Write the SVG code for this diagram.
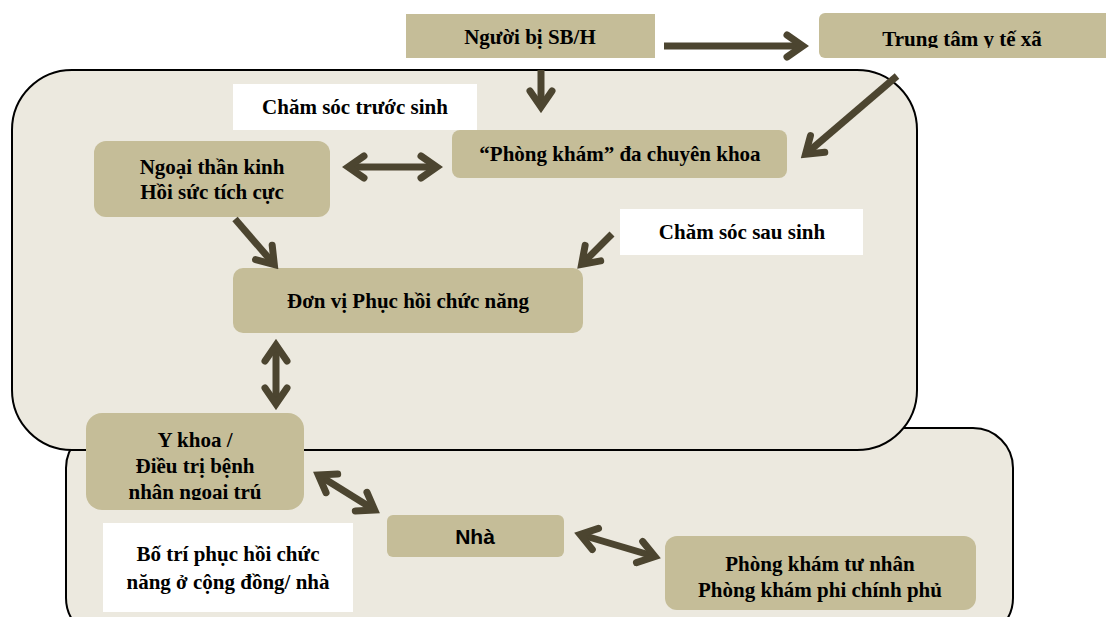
<svg xmlns="http://www.w3.org/2000/svg" width="1106" height="617" viewBox="0 0 1106 617">
<style>
.cont{fill:#ECE9DF;stroke:#000;stroke-width:2}
.node{fill:#C5BD98}
.white{fill:#FFFFFF}
.t{font-family:"Liberation Serif","Times New Roman",serif;font-weight:bold;font-size:21px;fill:#000;text-anchor:middle}
.s{font-family:"Liberation Sans",Arial,sans-serif;font-weight:bold;font-size:21px;fill:#000;text-anchor:middle}
.arr{stroke:#4C4530;stroke-width:7;fill:none;marker-end:url(#ah)}
.arr2{stroke:#4C4530;stroke-width:7;fill:none;marker-end:url(#ah);marker-start:url(#ah)}
</style>
<defs>
<marker id="ah" markerUnits="userSpaceOnUse" viewBox="0 0 30 30" markerWidth="30" markerHeight="30" refX="22" refY="15" orient="auto-start-reverse">
<path d="M8,4 L24,15 L8,26" fill="none" stroke="#4C4530" stroke-width="7" stroke-linecap="round" stroke-linejoin="miter"/>
</marker>
<clipPath id="clipTT"><rect x="819" y="13" width="287" height="35"/></clipPath>
<clipPath id="clipYK"><rect x="86" y="413" width="218" height="87"/></clipPath>
</defs>
<g id="containers">
<rect id="community" class="cont" x="66" y="428" width="947" height="210" rx="40"/>
<rect id="hospital" class="cont" x="12" y="70" width="905" height="380" rx="60"/>
</g>
<g id="n-nguoi"><rect class="node" x="406" y="14" width="249" height="44"/><text class="t" x="530" y="44">Người bị SB/H</text></g>
<g id="n-trungtam"><rect class="node" x="819" y="13" width="300" height="45" rx="6"/><text class="t" x="962" y="46" clip-path="url(#clipTT)">Trung tâm y tế xã</text></g>
<g id="n-truocsinh"><rect class="white" x="233" y="84" width="244" height="46"/><text class="t" x="355" y="114">Chăm sóc trước sinh</text></g>
<g id="n-phongkham"><rect class="node" x="452" y="130" width="335" height="48" rx="8"/><text class="t" x="620" y="161">“Phòng khám” đa chuyên khoa</text></g>
<g id="n-ngoai"><rect class="node" x="94" y="141" width="236" height="76" rx="12"/><text class="t" x="212" y="174">Ngoại thần kinh</text><text class="t" x="212" y="199">Hồi sức tích cực</text></g>
<g id="n-sausinh"><rect class="white" x="620" y="209" width="243" height="46"/><text class="t" x="742" y="239">Chăm sóc sau sinh</text></g>
<g id="n-donvi"><rect class="node" x="233" y="268" width="350" height="65" rx="10"/><text class="t" x="408" y="308">Đơn vị Phục hồi chức năng</text></g>
<g id="n-ykhoa"><rect class="node" x="86" y="413" width="218" height="97" rx="16"/><g clip-path="url(#clipYK)"><text class="t" x="195" y="447">Y khoa /</text><text class="t" x="195" y="473">Điều trị bệnh</text><text class="t" x="195" y="499">nhân ngoại trú</text></g></g>
<g id="n-nha"><rect class="node" x="387" y="515" width="177" height="42" rx="6"/><text class="s" x="475" y="544">Nhà</text></g>
<g id="n-botri"><rect class="white" x="103" y="523" width="250" height="89"/><text class="t" x="228" y="561">Bố trí phục hồi chức</text><text class="t" x="228" y="589">năng ở cộng đồng/ nhà</text></g>
<g id="n-tunhan"><rect class="node" x="665" y="536" width="311" height="74" rx="12"/><text class="t" x="820" y="571">Phòng khám tư nhân</text><text class="t" x="820" y="597">Phòng khám phi chính phủ</text></g>
<g id="connectors">
<line class="arr" x1="664" y1="46" x2="801" y2="46"/>
<line class="arr" x1="541" y1="70" x2="541" y2="105"/>
<line class="arr" x1="897" y1="76" x2="807" y2="153"/>
<line class="arr2" x1="350" y1="167" x2="435" y2="167"/>
<line class="arr" x1="235" y1="219" x2="273" y2="263"/>
<line class="arr" x1="612" y1="234" x2="583" y2="263"/>
<line class="arr2" x1="276" y1="347" x2="276" y2="402"/>
<line class="arr2" x1="320" y1="476" x2="373" y2="509"/>
<line class="arr2" x1="582" y1="535" x2="653" y2="556"/>
</g>
</svg>
